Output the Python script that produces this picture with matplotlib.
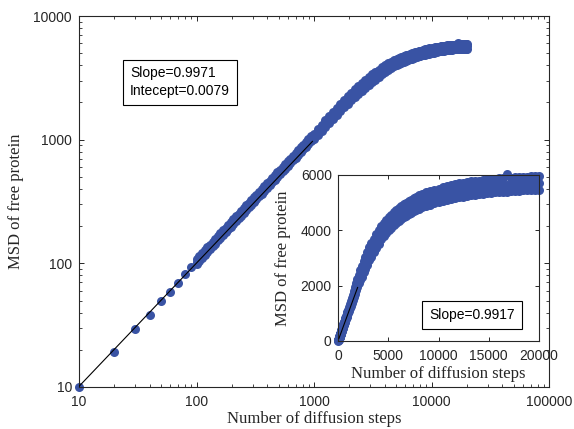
import matplotlib
matplotlib.use("Agg")
import matplotlib.pyplot as plt
from matplotlib.ticker import LogLocator, NullFormatter

# ---------------- data ----------------
steps_sparse = [10, 20, 30, 40, 50, 60, 70, 80, 90]
msd_sparse = [10, 19.3, 29.3, 38, 49.7, 59, 69, 81.7, 94]

steps_dense = [100, 106, 112, 118, 124, 130, 137, 144, 152, 160, 168, 177, 186, 196, 206,
               217, 228, 240, 252, 265, 279, 293, 308, 324, 341, 359, 378, 398, 419, 441,
               464, 488, 513, 540, 568, 598, 629, 662, 697, 733, 771, 811, 853, 897, 944,
               1000, 1080, 1160, 1250, 1350, 1450, 1560, 1680, 1800, 1930, 2070, 2220, 2380,
               2550, 2730, 2920, 3120, 3330, 3560, 3800, 4050, 4300, 4550, 4800, 5050, 5300,
               5550, 5800, 6050, 6300, 6550, 6800, 7050, 7300, 7550, 7800, 8050,
               8400, 8800, 9200, 9600, 10000, 10400, 10800, 11200, 11600, 12000, 12400, 12800,
               13200, 13600, 14000, 14400, 14800, 15200, 15600, 16000, 16400, 16800, 17200,
               17600, 18000, 18400, 18800, 19200, 19600, 20000]
msd_mid = [102, 108, 114, 121, 127, 134, 141, 148, 157, 165, 174, 183, 193, 203, 214,
           225, 237, 250, 263, 276, 291, 306, 322, 339, 357, 376, 396, 417, 439, 463,
           487, 512, 539, 568, 598, 630, 663, 698, 735, 774, 815, 858, 903, 950, 1001,
           1060, 1150, 1240, 1340, 1450, 1560, 1690, 1820, 1950, 2090, 2230, 2370, 2520,
           2680, 2830, 2990, 3150, 3300, 3460, 3620, 3770, 3910, 4030, 4150, 4250, 4340,
           4420, 4500, 4570, 4640, 4710, 4770, 4830, 4880, 4930, 4980, 5020,
           5070, 5120, 5170, 5210, 5260, 5300, 5340, 5380, 5410, 5440, 5470, 5490,
           5510, 5530, 5550, 5570, 5590, 5600, 5610, 5620, 5630, 5640, 5650,
           5660, 5670, 5680, 5690, 5690, 5700, 5700]
msd_hi = [108, 114, 121, 128, 135, 142, 150, 157, 166, 175, 185, 194, 205, 216, 227,
          240, 252, 265, 280, 294, 309, 326, 343, 360, 380, 399, 421, 444, 466, 492,
          518, 544, 573, 603, 636, 669, 704, 742, 780, 822, 866, 911, 959, 1009, 1062,
          1120, 1220, 1320, 1430, 1550, 1670, 1810, 1950, 2100, 2250, 2400, 2560, 2720,
          2890, 3050, 3220, 3380, 3530, 3690, 3850, 4000, 4140, 4260, 4380, 4480, 4570,
          4650, 4730, 4800, 4870, 4940, 5000, 5060, 5110, 5160, 5210, 5260,
          5320, 5380, 5420, 5470, 5510, 5560, 5590, 5630, 5660, 5700, 5720, 5740,
          5770, 5780, 5800, 5830, 5840, 5860, 5850, 5880, 5880, 6020, 5900,
          5910, 5920, 5940, 5930, 5950, 5950, 5960]
msd_lo = [99, 105, 111, 117, 124, 130, 137, 144, 153, 160, 169, 178, 188, 197, 208,
          219, 231, 243, 256, 268, 283, 297, 313, 330, 348, 366, 386, 406, 428, 451,
          474, 499, 525, 553, 582, 613, 646, 680, 716, 754, 794, 836, 880, 926, 975,
          1020, 1100, 1180, 1270, 1370, 1470, 1590, 1710, 1830, 1950, 2080, 2200, 2330,
          2480, 2610, 2760, 2910, 3050, 3210, 3370, 3520, 3670, 3790, 3910, 4010, 4100,
          4180, 4260, 4330, 4400, 4470, 4530, 4590, 4640, 4690, 4740, 4780,
          4830, 4880, 4920, 4970, 5010, 5060, 5100, 5140, 5170, 5200, 5220, 5250,
          5270, 5290, 5310, 5320, 5350, 5360, 5370, 5380, 5390, 5400, 5410,
          5420, 5430, 5440, 5450, 5450, 5460, 5460]

# linear fits shown in the figure
main_fit_slope = 0.9971
main_fit_intercept = 0.0079          # log10 intercept
main_fit_range = [10, 970]
inset_fit_slope = 0.9917
inset_fit_range = [100, 1950]

main_xticks = [10, 100, 1000, 10000, 100000]
main_xticklabels = ["10", "100", "1000", "10000", "100000"]
main_yticks = [10, 100, 1000, 10000]
main_yticklabels = ["10", "100", "1000", "10000"]
inset_xticks = [0, 5000, 10000, 15000, 20000]
inset_xticklabels = ["0", "5000", "10000", "15000", "20000"]
inset_yticks = [0, 2000, 4000, 6000]
inset_yticklabels = ["0", "2000", "4000", "6000"]

xlabel_text = "Number of diffusion steps"
ylabel_text = "MSD of free protein"
main_box_text = "Slope=0.9971\nIntecept=0.0079"
inset_box_text = "Slope=0.9917"

# ---------------- style ----------------
blue = "#3953a4"
dark = "#262626"
sans = "Liberation Sans"
serif = "Liberation Serif"

fig = plt.figure(figsize=(5.74, 4.29), dpi=100)


def style_axes(ax, minor):
    for s in ax.spines.values():
        s.set_color(dark)
        s.set_linewidth(0.8)
    ax.tick_params(which="major", direction="in", top=True, right=True,
                   length=3.4, width=0.7, color=dark, labelcolor=dark,
                   labelsize=10)
    if minor:
        ax.tick_params(which="minor", direction="in", top=True, right=True,
                       length=2.2, width=0.6, color=dark)
    for lab in ax.get_xticklabels() + ax.get_yticklabels():
        lab.set_fontfamily(sans)


def draw_points(ax):
    kw = dict(ls="none", marker="o", ms=6.5, mew=0, color=blue, clip_on=False, zorder=2)
    ax.plot(steps_sparse, msd_sparse, **kw)
    ax.plot(steps_dense, msd_lo, **kw)
    ax.plot(steps_dense, msd_hi, **kw)
    ax.plot(steps_dense, msd_mid, **kw)


# ---------------- main log-log axes ----------------
ax = fig.add_axes([79 / 574, 1 - 387 / 429, 470 / 574, 371 / 429])
ax.set_xscale("log")
ax.set_yscale("log")
draw_points(ax)
fx = main_fit_range
fy = [10 ** main_fit_intercept * v ** main_fit_slope for v in fx]
ax.plot(fx, fy, color="black", lw=0.8, zorder=3)
ax.set_xlim(10, 100000)
ax.set_ylim(10, 10000)
ax.set_xticks(main_xticks)
ax.set_xticklabels(main_xticklabels)
ax.set_yticks(main_yticks)
ax.set_yticklabels(main_yticklabels)
ax.xaxis.set_minor_locator(LogLocator(base=10, subs=range(2, 10), numticks=20))
ax.yaxis.set_minor_locator(LogLocator(base=10, subs=range(2, 10), numticks=20))
ax.xaxis.set_minor_formatter(NullFormatter())
ax.yaxis.set_minor_formatter(NullFormatter())
style_axes(ax, True)
ax.tick_params(axis="x", which="major", pad=5.5)
ax.tick_params(axis="y", which="major", pad=5)
ax.set_xlabel(xlabel_text, fontfamily=serif, fontsize=12, color=dark)
ax.set_ylabel(ylabel_text, fontfamily=serif, fontsize=12, color=dark)
ax.xaxis.label.set_va("center")
ax.yaxis.label.set_va("center")
ax.xaxis.set_label_coords(0.5, -0.0875)
ax.yaxis.set_label_coords(-0.133, 0.5)
ax.text(0.1085, 0.821, main_box_text, transform=ax.transAxes, ha="left", va="center",
        fontfamily=sans, fontsize=10, color="black", linespacing=1.35,
        bbox=dict(boxstyle="square,pad=0.5", fc="white", ec="black", lw=0.8))

# ---------------- inset linear axes ----------------
ax2 = fig.add_axes([338 / 574, 1 - 341 / 429, 201 / 574, 166 / 429])
ax2.set_facecolor("white")
draw_points(ax2)
ix = inset_fit_range
iy = [inset_fit_slope * v for v in ix]
ax2.plot(ix, iy, color="black", lw=0.8, zorder=3)
ax2.set_xlim(0, 20000)
ax2.set_ylim(0, 6000)
ax2.set_xticks(inset_xticks)
ax2.set_xticklabels(inset_xticklabels)
ax2.set_yticks(inset_yticks)
ax2.set_yticklabels(inset_yticklabels)
style_axes(ax2, False)
ax2.tick_params(axis="x", which="major", pad=6, length=3)
ax2.tick_params(axis="y", which="major", pad=4.5, length=3)
ax2.set_xlabel(xlabel_text, fontfamily=serif, fontsize=12, color=dark)
ax2.set_ylabel(ylabel_text, fontfamily=serif, fontsize=12, color=dark)
ax2.xaxis.label.set_va("center")
ax2.yaxis.label.set_va("center")
ax2.xaxis.set_label_coords(0.5, -0.2)
ax2.yaxis.set_label_coords(-0.274, 0.5)
ax2.text(0.454, 0.154, inset_box_text, transform=ax2.transAxes, ha="left", va="center",
         fontfamily=sans, fontsize=10, color="black",
         bbox=dict(boxstyle="square,pad=0.5", fc="white", ec="black", lw=0.8))

fig.savefig("out.png", dpi=100)
